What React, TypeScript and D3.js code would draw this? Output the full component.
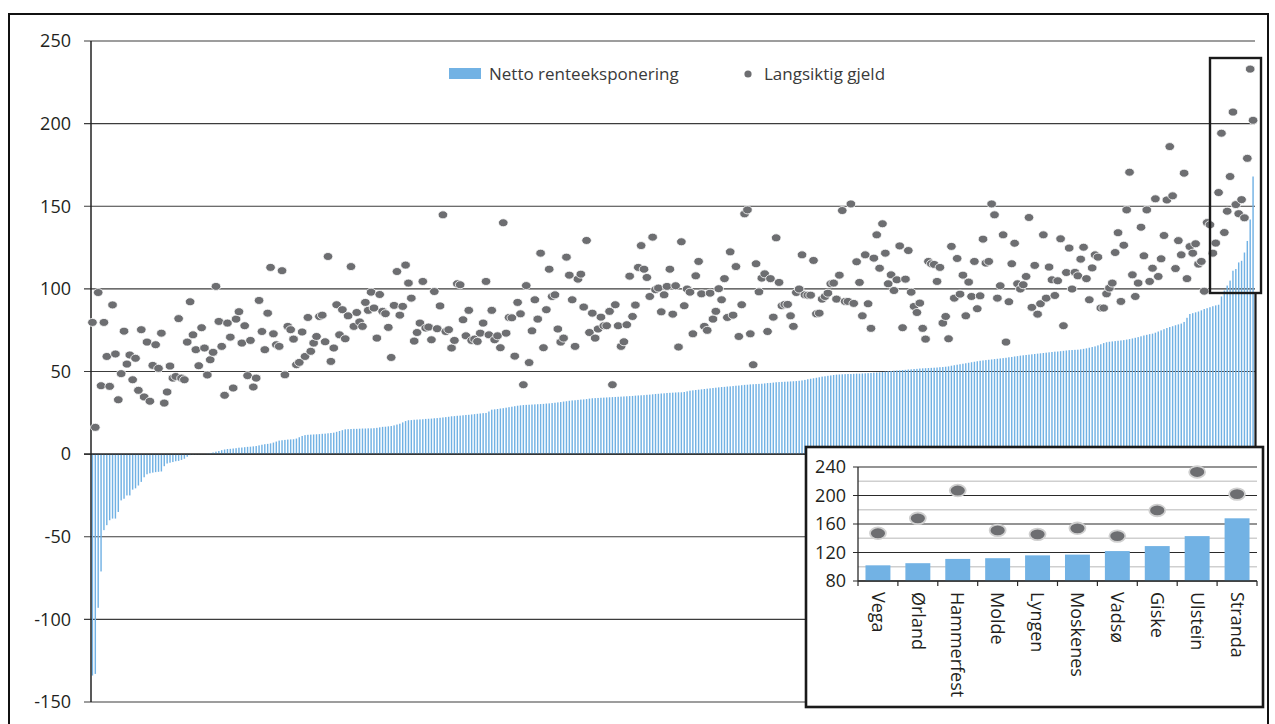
import React from 'react';
import * as d3 from 'd3';

// Sorted net interest exposure per municipality (main chart bars)
const netExposure: number[] = [
  -134, -133, -93, -71, -46, -43, -40, -39, -39, -35,
  -28, -27, -25, -25, -21.5, -20.7, -19, -16.8, -14, -12.2,
  -11.6, -11.2, -10.9, -10.7, -10.5, -7.3, -5.7, -5.2, -4.8, -4.3,
  -4.1, -3.5, -2.8, -1.6, -0.6, -0.4, -0.3, -0.2, -0.1, 0.1,
  0.3, 0.6, 1.0, 1.5, 1.9, 2.4, 2.8, 3.1, 3.2, 3.4,
  3.6, 3.9, 4.0, 4.2, 4.4, 4.5, 4.7, 4.9, 5.3, 5.7,
  6.0, 6.2, 6.5, 7.0, 7.6, 8.2, 8.4, 8.6, 8.8, 8.9,
  9.0, 9.4, 10.2, 11.0, 11.5, 11.7, 11.8, 11.9, 12.0, 12.1,
  12.3, 12.4, 12.6, 12.8, 13.0, 13.5, 14.0, 14.5, 15.0, 15.1,
  15.2, 15.3, 15.3, 15.4, 15.5, 15.5, 15.6, 15.6, 15.7, 15.9,
  16.2, 16.5, 16.6, 16.8, 17.0, 17.4, 17.9, 18.4, 19.2, 20.0,
  20.5, 20.6, 20.8, 20.9, 21.0, 21.1, 21.3, 21.4, 21.5, 21.7,
  21.8, 22.0, 22.2, 22.4, 22.6, 22.9, 23.0, 23.2, 23.3, 23.5,
  23.7, 23.8, 24.0, 24.2, 24.4, 24.6, 24.8, 24.9, 25.8, 26.9,
  27.1, 27.3, 27.6, 27.8, 28.1, 28.4, 28.7, 29.0, 29.3, 29.5,
  29.7, 29.8, 29.9, 30.0, 30.1, 30.2, 30.3, 30.4, 30.6, 30.7,
  30.9, 31.1, 31.3, 31.5, 31.8, 32.0, 32.3, 32.5, 32.6, 32.8,
  33.0, 33.1, 33.3, 33.6, 33.8, 33.9, 34.0, 34.1, 34.2, 34.3,
  34.4, 34.5, 34.6, 34.7, 34.8, 34.9, 35.0, 35.1, 35.2, 35.4,
  35.5, 35.6, 35.7, 35.9, 36.0, 36.2, 36.4, 36.5, 36.7, 36.8,
  37.0, 37.1, 37.2, 37.3, 37.4, 37.4, 37.6, 38.0, 38.4, 38.6,
  38.8, 39.0, 39.2, 39.4, 39.6, 39.8, 40.0, 40.2, 40.4, 40.6,
  40.7, 40.9, 41.0, 41.2, 41.4, 41.5, 41.7, 41.9, 42.0, 42.2,
  42.3, 42.4, 42.5, 42.6, 42.8, 43.0, 43.1, 43.3, 43.5, 43.6,
  43.7, 43.8, 43.9, 44.0, 44.1, 44.2, 44.4, 44.6, 44.9, 45.3,
  45.6, 45.9, 46.2, 46.5, 46.9, 47.1, 47.4, 47.6, 47.9, 48.1,
  48.2, 48.3, 48.4, 48.5, 48.5, 48.6, 48.7, 48.7, 48.8, 48.9,
  49.0, 49.1, 49.3, 49.4, 49.5, 49.7, 49.9, 50.1, 50.3, 50.5,
  50.6, 50.7, 50.9, 51.0, 51.2, 51.3, 51.5, 51.6, 51.8, 51.9,
  52.0, 52.1, 52.2, 52.3, 52.4, 52.6, 52.7, 52.9, 53.1, 53.5,
  53.8, 54.1, 54.4, 54.7, 55.0, 55.3, 55.6, 55.9, 56.2, 56.5,
  56.7, 56.9, 57.1, 57.3, 57.5, 57.7, 57.9, 58.1, 58.3, 58.6,
  58.8, 59.1, 59.3, 59.6, 59.8, 60.0, 60.2, 60.4, 60.6, 60.8,
  61.0, 61.2, 61.4, 61.6, 61.8, 62.0, 62.1, 62.3, 62.5, 62.7,
  62.9, 63.0, 63.1, 63.2, 63.4, 63.7, 64.0, 64.4, 64.8, 65.2,
  65.8, 66.5, 67.2, 67.7, 68.0, 68.2, 68.4, 68.6, 68.8, 69.0,
  69.3, 69.6, 70.0, 70.4, 70.8, 71.3, 71.8, 72.2, 72.6, 72.9,
  73.5, 74.2, 74.9, 75.6, 76.3, 76.9, 77.4, 78.0, 78.5, 79.0,
  80.0, 82.5, 84.8, 85.3, 85.8, 86.3, 87.0, 87.8, 88.3, 88.9,
  89.5, 90.0, 90.4, 95.4, 99.0,
  102, 105, 111, 112, 116, 117, 122, 129, 142, 168,
];

// Long-term debt per municipality (main chart dots), same order as the bars
const longTermDebt: number[] = [
  79.7, 16.2, 97.8, 41.4, 79.7, 59.1, 41, 90.3, 60.6, 32.9,
  48.7, 74.4, 54.5, 60, 45, 58, 38.6, 75.3, 34.6, 67.8,
  32, 53.7, 66.2, 51.9, 73.2, 30.9, 37.6, 53.3, 46, 47,
  82, 46, 45, 67.8, 92.2, 72.2, 63.2, 53.5, 76.5, 64.2,
  47.9, 57.1, 61.6, 101.5, 80.3, 65.2, 35.6, 79.3, 70.8, 40,
  81.7, 86.2, 67.2, 77.7, 47.5, 68.8, 40.6, 46, 93, 74.2,
  63.2, 85.3, 113, 72.8, 66.2, 65.2, 111, 48, 77.3,
  75.3, 69.6, 54.1, 55.5, 73.9, 59.1, 82.7, 62.2, 67.2, 71.2,
  83.3, 84.1, 68, 119.6, 56.1, 64.2, 90.4, 72.2, 87.4, 69.8,
  83.7, 113.5, 77.3, 85.7, 80, 77.3, 91.8, 87, 98, 88.4,
  70.2, 96.6, 86.4, 85, 76.7, 58.5, 90, 110.5, 84.1, 89.4,
  114.4, 103.5, 94.4, 68.4, 73.6, 79.3, 104.5, 76.3, 76.9, 69.2,
  98.4, 75.9, 89.7, 144.8, 74.2, 75.3, 64.2, 68.8, 103.1, 102.5,
  81.3, 71.6, 87, 68.8, 69.6, 68.2, 73.2, 79.3,
  104.5, 72.2, 87, 69.2, 71.6, 64.4, 140, 73.2, 82.7, 82.5,
  59.3, 91.8, 84.9, 42, 102, 55.4, 74.6, 93.4, 81.7, 121.6,
  64.4, 87.4, 111.9, 95.4, 96.4, 75.7, 67.8, 70.2, 119.2, 108.3,
  93.4, 65.2, 105.9, 108.9, 89, 129.3, 73.6, 85.3, 70.2, 75.7,
  82.9, 77.7, 77.7, 86.4, 42, 90.4, 77.7, 65.2, 68, 78.3,
  107.7, 83.3, 90.2, 113, 126.2, 111.9, 106.9, 95.4, 131.3, 99.5,
  100.5, 86.1, 96.4, 101.5, 111.9, 84.7, 101.9, 64.8, 128.5,
  89.8, 99.9, 98, 72.8, 107.9, 116.6, 97, 77.3, 74.9, 97.4,
  81.7, 86.4, 100.1, 93.4, 106.2, 82.7, 122.4, 84.1, 113.5, 71.2,
  90.4, 145.4, 147.8, 72.8, 54.1, 115.2, 98.2, 106.5, 109.1, 74.2,
  106.2, 82.9, 130.9, 103.9, 89.8, 90.6, 90.6, 83.7, 77.3, 97.8,
  99.9, 120.6, 96.4, 96.2, 96.2, 117.2, 84.9, 85.3, 93.8, 95.4,
  97.4, 103.1, 103.5, 93.8, 108.3, 147.4, 92.4, 92.4, 151.4, 91.2,
  116.4, 103.9, 83.7, 120.6, 91, 76.1, 118.6, 132.7, 112.5,
  139.4, 121.6, 103.1, 108.5, 99, 105.5, 126, 76.5, 105.9, 123.2,
  98, 89.4, 85.7, 91.4, 76.1, 69.6, 116.6, 115.2, 114.8, 104.5,
  113, 79.3, 83.3, 69.8, 125.7, 94.4, 118.4, 96.8, 108.3, 83.7,
  104.1, 95.4, 116.6, 88, 95.8, 130.1, 115.6, 116.6, 151.4, 144.8,
  94.4, 101.9, 132.7, 67.8, 92.2, 115.2, 127.6, 103.1, 99.9, 102.5,
  107.5, 143.2, 88.8, 114.2, 84.7, 91, 132.7, 94.4, 113.2, 105.5,
  96, 104.9, 130.3, 77.7, 109.9, 124.7, 99.9,
  110, 107.9, 118, 125.2, 106.2, 93.4, 112.7, 120.6, 119.2, 88.4,
  88.4, 97, 100.5, 103.5, 122, 134, 92.4, 126.4, 147.8, 170.6,
  108.5, 95.4, 103.5, 137.3, 120, 147.8, 104.5, 112.5, 154.5, 107.5,
  118.2, 132.3, 153.8, 186.1, 156.3, 112.3, 129.2, 120.6, 170, 106.2,
  125.6, 121.6, 127.3, 115, 116.6, 98.6, 140.1, 138.8, 121.6, 127.7,
  158.3, 194.2, 134.1,
  147, 168, 207, 151, 145.5, 154, 143, 179, 233, 202,
];

const yTicks = [-150, -100, -50, 0, 50, 100, 150, 200, 250];
const legendLabels = ['Netto renteeksponering', 'Langsiktig gjeld'];

const insetNames = ['Vega', 'Ørland', 'Hammerfest', 'Molde', 'Lyngen', 'Moskenes', 'Vadsø', 'Giske', 'Ulstein', 'Stranda'];
const insetExposure = [102, 105, 111, 112, 116, 117, 122, 129, 143, 168];
const insetDebt = [147, 168, 207, 151, 145.5, 154, 143, 179, 233, 202];
const insetMajorTicks = [80, 120, 160, 200, 240];
const insetMinorTicks = [100, 140, 180, 220];

const FONT = "'Open Sans', 'Noto Sans', 'DejaVu Sans', sans-serif";
const BLUE = '#72b2e4';
const DOT = '#6d6e71';
const TEXT = '#231f20';

export default function App() {
  const n = netExposure.length;
  const x = d3
    .scaleBand<number>()
    .domain(d3.range(n))
    .range([91, 1254.5])
    .paddingInner(0.5)
    .paddingOuter(0.25);
  const y = d3.scaleLinear().domain([-150, 250]).range([702, 41]);
  const bw = x.bandwidth();
  const cx = (i: number) => (x(i) as number) + bw / 2;

  // inset scales
  const xi = d3.scaleBand<string>().domain(insetNames).range([858, 1257]).paddingInner(0.375).paddingOuter(0.1875);
  const yi = d3.scaleLinear().domain([80, 240]).range([581, 467]);
  const step = xi.step();

  return (
    <svg
      width={1275}
      height={724}
      style={{ position: 'absolute', left: 0, top: 0, background: '#fff' }}
      fontFamily={FONT}
    >
      <rect x={0} y={0} width={1275} height={724} fill="#fff" />
      {/* outer frame */}
      <rect x={9} y={14} width={1259} height={730} fill="none" stroke="#111" strokeWidth={2} />

      {/* gridlines + ticks */}
      {yTicks.map((t) => (
        <g key={t}>
          <line x1={84} x2={1255} y1={y(t)} y2={y(t)} stroke="#3c3c3c" strokeWidth={1.2} />
          <text x={71} y={y(t)} dy="0.35em" textAnchor="end" fontSize={18} fill={TEXT}>
            {t}
          </text>
        </g>
      ))}

      {/* bars */}
      {netExposure.map((v, i) => (
        <rect
          key={i}
          x={x(i)}
          width={bw}
          y={Math.min(y(v), y(0))}
          height={Math.abs(y(v) - y(0))}
          fill={BLUE}
        />
      ))}

      {/* zero line and axis */}
      <line x1={84} x2={1255} y1={y(0)} y2={y(0)} stroke="#222" strokeWidth={1.3} />
      <line x1={91} x2={91} y1={y(250)} y2={y(-150)} stroke="#222" strokeWidth={1.5} />

      {/* dots */}
      {longTermDebt.map((v, i) => (
        <ellipse key={i} cx={cx(i)} cy={y(v)} rx={4.8} ry={4.0} fill={DOT} stroke="#fff" strokeWidth={0.8} />
      ))}

      {/* legend */}
      <rect x={449} y={68} width={32} height={11} fill={BLUE} />
      <text x={489} y={80} fontSize={17} fill="#3a3a3a">
        {legendLabels[0]}
      </text>
      <circle cx={748} cy={74} r={3.6} fill={DOT} />
      <text x={764} y={80} fontSize={17} fill="#3a3a3a">
        {legendLabels[1]}
      </text>

      {/* highlight rectangle + connector */}
      <rect x={1210} y={58} width={51} height={235} fill="none" stroke="#1a1a1a" strokeWidth={2.4} />
      <line x1={1255.5} x2={1255.5} y1={293} y2={447} stroke="#1a1a1a" strokeWidth={2.2} />

      {/* inset */}
      <rect x={806} y={447} width={457} height={260} fill="#fff" stroke="#1a1a1a" strokeWidth={2.6} />
      {insetMinorTicks.map((t) => (
        <line key={'m' + t} x1={858} x2={1257} y1={yi(t)} y2={yi(t)} stroke="#cfcfcf" strokeWidth={1.6} />
      ))}
      {insetMajorTicks.map((t) => (
        <g key={'M' + t}>
          <line x1={853} x2={1257} y1={yi(t)} y2={yi(t)} stroke="#2a2a2a" strokeWidth={1.2} />
          <text x={846} y={yi(t)} dy="0.35em" textAnchor="end" fontSize={18} fill={TEXT}>
            {t}
          </text>
        </g>
      ))}
      {insetNames.map((name, k) => (
        <rect
          key={'ib' + name}
          x={xi(name)}
          width={xi.bandwidth()}
          y={yi(insetExposure[k])}
          height={yi(80) - yi(insetExposure[k])}
          fill={BLUE}
        />
      ))}
      <line x1={858} x2={858} y1={yi(240)} y2={yi(80)} stroke="#2a2a2a" strokeWidth={1.3} />
      <line x1={858} x2={1257} y1={yi(80)} y2={yi(80)} stroke="#2a2a2a" strokeWidth={1.3} />
      {d3.range(insetNames.length + 1).map((k) => (
        <line
          key={'it' + k}
          x1={858 + k * step}
          x2={858 + k * step}
          y1={yi(80)}
          y2={yi(80) + 5}
          stroke="#2a2a2a"
          strokeWidth={1.2}
        />
      ))}
      {insetNames.map((name, k) => (
        <ellipse
          key={'id' + name}
          cx={(xi(name) as number) + xi.bandwidth() / 2}
          cy={yi(insetDebt[k])}
          rx={8}
          ry={5.8}
          fill={DOT}
          stroke="#d0d0d0"
          strokeWidth={1.8}
        />
      ))}
      {insetNames.map((name) => {
        const px = (xi(name) as number) + xi.bandwidth() / 2;
        return (
          <text
            key={'il' + name}
            transform={`translate(${px},592) rotate(90)`}
            dy="0.35em"
            fontSize={18}
            fill={TEXT}
          >
            {name}
          </text>
        );
      })}
    </svg>
  );
}
